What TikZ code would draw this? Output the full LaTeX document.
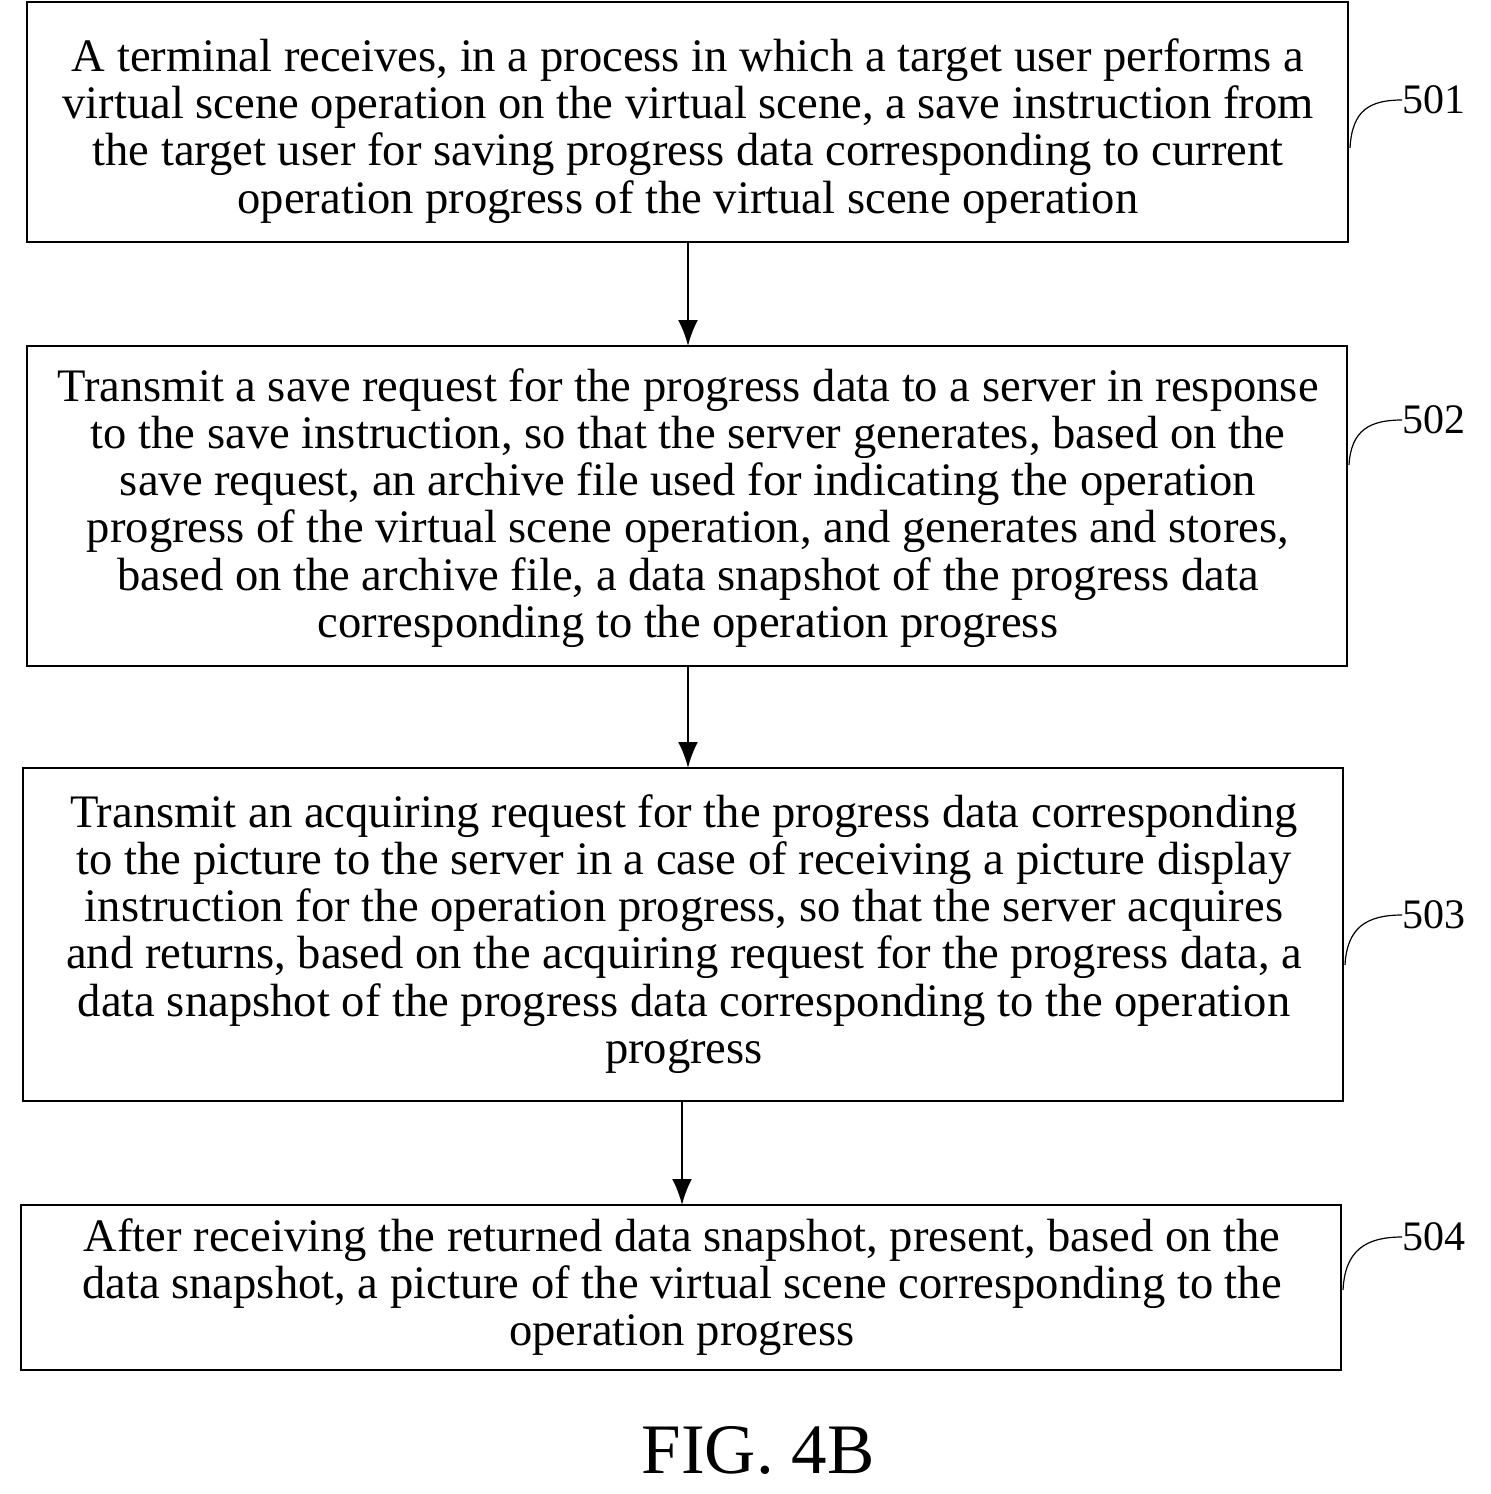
\documentclass[tikz,border=0pt]{standalone}
\usepackage{fontspec}
\usetikzlibrary{arrows.meta}
\setmainfont{Liberation Serif}
\begin{document}
\begin{tikzpicture}[x=0.5pt,y=-0.5pt,
 box/.style={draw,line width=0.8pt,inner sep=0pt,align=center,font=\fontsize{23.3}{23.6}\selectfont},
 arr/.style={-{Latex[length=13pt,width=10pt]},line width=1.2pt},
 lab/.style={font=\fontsize{21}{24}\selectfont,anchor=west,inner sep=0pt},
 lk/.style={line width=0.6pt}]
\useasboundingbox (0,0) rectangle (1491,1494);
\draw[box] (27,2) rectangle (1348,242);
\node[box,draw=none] (t1) at (688,131) {A terminal receives, in a process in which a target user performs a\\virtual scene operation on the virtual scene, a save instruction from\\the target user for saving progress data corresponding to current\\operation progress of the virtual scene operation};
\draw[box] (27,346) rectangle (1347,666);
\node[box,draw=none] (t2) at (688,508) {Transmit a save request for the progress data to a server in response\\to the save instruction, so that the server generates, based on the\\save request, an archive file used for indicating the operation\\progress of the virtual scene operation, and generates and stores,\\based on the archive file, a data snapshot of the progress data\\corresponding to the operation progress};
\draw[box] (23,768) rectangle (1343,1101);
\node[box,draw=none] (t3) at (684,934) {Transmit an acquiring request for the progress data corresponding\\to the picture to the server in a case of receiving a picture display\\instruction for the operation progress, so that the server acquires\\and returns, based on the acquiring request for the progress data, a\\data snapshot of the progress data corresponding to the operation\\progress};
\draw[box] (21,1205) rectangle (1341,1370);
\node[box,draw=none] (t4) at (682,1287) {After receiving the returned data snapshot, present, based on the\\data snapshot, a picture of the virtual scene corresponding to the\\operation progress};
\coordinate (a1) at (688,242); \coordinate (b1) at (688,346);
\coordinate (a2) at (688,666); \coordinate (b2) at (688,768);
\coordinate (a3) at (682,1101); \coordinate (b3) at (682,1205);
\draw[arr] (a1) -- (b1);
\draw[arr] (a2) -- (b2);
\draw[arr] (a3) -- (b3);
\node[lab] (l1) at (1402,100) {501};
\node[lab] (l2) at (1402,420) {502};
\node[lab] (l3) at (1402,915) {503};
\node[lab] (l4) at (1402,1237) {504};
\draw[lk] (1350,148) .. controls (1352,110) and (1370,100) .. (l1.west);
\draw[lk] (1349,465) .. controls (1351,430) and (1370,420) .. (l2.west);
\draw[lk] (1345,965) .. controls (1347,928) and (1366,915) .. (l3.west);
\draw[lk] (1343,1290) .. controls (1345,1250) and (1366,1237) .. (l4.west);
\node[font=\fontsize{35.5}{40}\selectfont] (fig) at (758,1450) {FIG. 4B};
\end{tikzpicture}
\end{document}
